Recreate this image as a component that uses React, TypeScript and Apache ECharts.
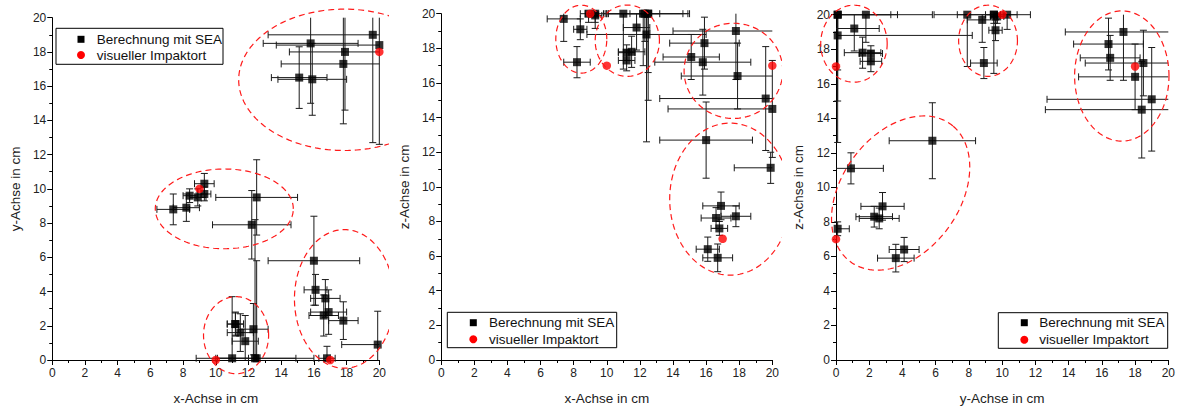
import React, { useEffect, useRef } from "react";
import * as echarts from "echarts";

// ---------- axis range ----------
const AXIS_MIN = 0;
const AXIS_MAX = 20;
const AXIS_STEP = 2;

// ---------- SEA results (cm): 4 clusters A, B, C, D ----------
const seaX = [19.6, 20.0, 15.8, 17.9, 17.8, 15.1, 15.9, 9.3, 8.4, 8.9, 9.3, 7.4, 8.2, 12.5, 12.2, 11.2, 11.2, 11.5, 11.8, 12.3, 11.0, 12.4, 12.5, 16.0, 16.1, 16.7, 16.9, 16.6, 17.8, 19.9, 16.8];
const seaY = [19.0, 18.4, 18.5, 18.0, 17.3, 16.5, 16.4, 10.3, 9.6, 9.5, 9.7, 8.8, 8.9, 9.5, 7.9, 2.1, 2.1, 1.6, 1.1, 1.8, 0.1, 0.1, 0.1, 5.8, 4.1, 3.6, 2.8, 2.6, 2.3, 0.9, 0.1];
const seaZ = [15.1, 14.5, 17.2, 16.4, 19.0, 17.5, 18.3, 20.0, 19.1, 20.0, 19.9, 19.7, 17.2, 20.0, 20.0, 17.75, 17.3, 17.8, 19.2, 20.0, 20.0, 18.8, 20.0, 12.7, 6.4, 5.9, 8.9, 8.2, 8.3, 11.1, 7.6];
const errX = [6.4, 6.3, 2.9, 3.4, 3.8, 1.7, 2.1, 0.6, 0.4, 0.5, 0.4, 1.0, 0.8, 2.5, 2.4, 0.5, 0.5, 0.8, 0.8, 0.9, 1.0, 3.6, 2.4, 2.8, 0.7, 0.9, 1.1, 0.9, 0.9, 2.2, 0.5];
const errY = [6.3, 5.8, 3.5, 3.4, 3.5, 1.8, 2.1, 0.6, 0.4, 0.5, 0.4, 0.9, 0.8, 2.2, 2.0, 0.7, 0.65, 1.1, 1.5, 1.5, 3.6, 8.1, 5.7, 2.6, 0.9, 1.1, 1.3, 1.2, 1.1, 1.95, 0.7];
const errZ = [3.0, 2.8, 1.9, 1.9, 2.8, 1.3, 1.5, 0.85, 0.6, 0.5, 0.4, 1.3, 0.9, 3.4, 3.0, 0.45, 0.6, 0.9, 1.3, 1.6, 3.2, 6.2, 5.0, 2.2, 0.7, 0.8, 0.8, 0.6, 0.6, 0.9, 0.4];

// ---------- visual impact points (cm) ----------
const impactX = [20, 9, 10, 17];
const impactY = [18, 10, 0, 0];
const impactZ = [17, 20, 17, 7];

// ---------- dashed ellipses: [centre a, centre b, radius a, radius b, angle deg] ----------
const ellipsesXY = [
  [17.86, 16.37, 6.46, 4.13, 0],
  [10.52, 8.83, 4.22, 2.33, 0],
  [11.24, 1.45, 1.99, 2.25, 0],
  [17.86, 3.57, 3.05, 4.05, 0],
];
const ellipsesXZ = [
  [8.46, 18.53, 1.54, 1.96, 0],
  [11.24, 18.44, 1.94, 2.06, 0],
  [17.65, 16.7, 2.98, 2.75, 0],
  [17.45, 9.29, 3.65, 4.39, 0],
];
const ellipsesYZ = [
  [1.08, 18.32, 2.0, 2.23, 0],
  [9.15, 18.49, 1.77, 2.06, 0],
  [17.2, 16.45, 2.84, 3.77, 0],
  [3.89, 9.67, 5.0, 3.5, 51],
];

const legendLabels = ["Berechnung mit SEA", "visueller Impaktort"];
const nameX = "x-Achse in cm";
const nameY = "y-Achse in cm";
const nameZ = "z-Achse in cm";

const FONT = '"Liberation Sans", Arial, Helvetica, sans-serif';

type Panel = {
  left: number;
  width: number;
  grid: { left: number; top: number; width: number; height: number };
  a: number[];
  b: number[];
  ea: number[];
  eb: number[];
  ia: number[];
  ib: number[];
  ellipses: number[][];
  xName: string;
  yName: string;
  yNameGap: number;
  legend: { x: number; y: number; w: number; h: number; sym: number; r1: number; r2: number; tx: number };
};

const panels: Panel[] = [
  {
    left: 0, width: 389,
    grid: { left: 50.7, top: 17.7, width: 331.3, height: 348.3 },
    a: seaX, b: seaY, ea: errX, eb: errY, ia: impactX, ib: impactY,
    ellipses: ellipsesXY, xName: nameX, yName: nameY, yNameGap: 23,
    legend: { x: 56, y: 28.3, w: 167, h: 36, sym: 81, r1: 39.3, r2: 55, tx: 96.7 },
  },
  {
    left: 389, width: 393,
    grid: { left: 51.7, top: 13.7, width: 335.3, height: 352 },
    a: seaX, b: seaZ, ea: errX, eb: errZ, ia: impactX, ib: impactZ,
    ellipses: ellipsesXZ, xName: nameX, yName: nameZ, yNameGap: 25,
    legend: { x: 58.3, y: 312.3, w: 169.4, h: 35.4, sym: 84.3, r1: 322.7, r2: 339.3, tx: 100 },
  },
  {
    left: 782, width: 396,
    grid: { left: 54, top: 14.7, width: 334, height: 351 },
    a: seaY, b: seaZ, ea: errY, eb: errZ, ia: impactY, ib: impactZ,
    ellipses: ellipsesYZ, xName: nameY, yName: nameZ, yNameGap: 25,
    legend: { x: 216.3, y: 312.7, w: 169.4, h: 35.6, sym: 242.3, r1: 322.7, r2: 339.7, tx: 257.3 },
  },
];

function axisCommon() {
  return {
    type: "value",
    min: AXIS_MIN,
    max: AXIS_MAX,
    interval: AXIS_STEP,
    nameLocation: "middle",
    nameTextStyle: { color: "#222", fontSize: 13.5, fontFamily: FONT },
    axisLine: { show: true, onZero: false, lineStyle: { color: "#000", width: 1 } },
    axisTick: { show: true, inside: false, length: 5, lineStyle: { color: "#000", width: 1 } },
    minorTick: { show: true, splitNumber: 2, length: 3, lineStyle: { color: "#000", width: 1 } },
    axisLabel: { color: "#222", fontSize: 12, fontFamily: FONT },
    splitLine: { show: false },
    minorSplitLine: { show: false },
  };
}

function buildOption(p: Panel) {
  const errData = p.a.map((v, i) => [v, p.b[i], p.ea[i], p.eb[i]]);
  const seaData = p.a.map((v, i) => [v, p.b[i]]);
  const impData = p.ia.map((v, i) => [v, p.ib[i]]);
  const L = p.legend;
  return {
    animation: false,
    grid: { ...p.grid, containLabel: false },
    xAxis: {
      ...axisCommon(),
      name: p.xName,
      nameGap: 31,
      axisLabel: { ...axisCommon().axisLabel, margin: 7 },
    },
    yAxis: {
      ...axisCommon(),
      name: p.yName,
      nameGap: p.yNameGap,
      nameRotate: 90,
      axisLabel: { ...axisCommon().axisLabel, margin: 6 },
    },
    series: [
      {
        type: "custom",
        name: "errors",
        clip: false,
        silent: true,
        z: 2,
        encode: { x: 0, y: 1 },
        data: errData,
        renderItem: (params: any, api: any) => {
          const x = api.value(0), y = api.value(1), ex = api.value(2), ey = api.value(3);
          const x0 = Math.max(AXIS_MIN, x - ex), x1 = Math.min(AXIS_MAX, x + ex);
          const y0 = Math.max(AXIS_MIN, y - ey), y1 = Math.min(AXIS_MAX, y + ey);
          const pL = api.coord([x0, y]), pR = api.coord([x1, y]);
          const pB = api.coord([x, y0]), pT = api.coord([x, y1]);
          const style = { stroke: "#1a1a1a", lineWidth: 1 };
          const c = 3.5;
          const ch: any[] = [
            { type: "line", shape: { x1: pL[0], y1: pL[1], x2: pR[0], y2: pR[1] }, style },
            { type: "line", shape: { x1: pB[0], y1: pB[1], x2: pT[0], y2: pT[1] }, style },
          ];
          if (x - ex >= AXIS_MIN) ch.push({ type: "line", shape: { x1: pL[0], y1: pL[1] - c, x2: pL[0], y2: pL[1] + c }, style });
          if (x + ex <= AXIS_MAX) ch.push({ type: "line", shape: { x1: pR[0], y1: pR[1] - c, x2: pR[0], y2: pR[1] + c }, style });
          if (y - ey >= AXIS_MIN) ch.push({ type: "line", shape: { x1: pB[0] - c, y1: pB[1], x2: pB[0] + c, y2: pB[1] }, style });
          if (y + ey <= AXIS_MAX) ch.push({ type: "line", shape: { x1: pT[0] - c, y1: pT[1], x2: pT[0] + c, y2: pT[1] }, style });
          return { type: "group", children: ch };
        },
      },
      {
        type: "scatter",
        name: legendLabels[0],
        clip: false,
        z: 3,
        symbol: "rect",
        symbolSize: 8,
        itemStyle: { color: "#000" },
        data: seaData,
      },
      {
        type: "scatter",
        name: legendLabels[1],
        clip: false,
        z: 4,
        symbol: "circle",
        symbolSize: 8.5,
        itemStyle: { color: "#ff0000" },
        data: impData,
      },
      {
        type: "custom",
        name: "ellipses",
        clip: false,
        silent: true,
        z: 5,
        encode: { x: 0, y: 1 },
        data: p.ellipses,
        renderItem: (params: any, api: any) => {
          const cx = api.value(0), cy = api.value(1), rx = api.value(2), ry = api.value(3);
          const ang = (api.value(4) * Math.PI) / 180;
          const pts: number[][] = [];
          const n = 160;
          for (let k = 0; k <= n; k++) {
            const t = (k / n) * Math.PI * 2;
            const dx = rx * Math.cos(t), dy = ry * Math.sin(t);
            pts.push(api.coord([cx + dx * Math.cos(ang) - dy * Math.sin(ang), cy + dx * Math.sin(ang) + dy * Math.cos(ang)]));
          }
          return {
            type: "polyline",
            shape: { points: pts },
            style: { stroke: "#ff1a1a", lineWidth: 1.2, lineDash: [6, 4], fill: null },
          };
        },
      },
    ],
    graphic: [
      { type: "rect", shape: { x: L.x, y: L.y, width: L.w, height: L.h }, style: { fill: "#fff", stroke: "#000", lineWidth: 1 }, z: 10 },
      { type: "rect", shape: { x: L.sym - 3.5, y: L.r1 - 3.5, width: 7, height: 7 }, style: { fill: "#000" }, z: 11 },
      { type: "circle", shape: { cx: L.sym, cy: L.r2, r: 4 }, style: { fill: "#ff0000" }, z: 11 },
      { type: "text", x: L.tx, y: L.r1, style: { text: legendLabels[0], fill: "#111", fontSize: 13.5, fontFamily: FONT, verticalAlign: "middle", align: "left" }, z: 11 },
      { type: "text", x: L.tx, y: L.r2, style: { text: legendLabels[1], fill: "#111", fontSize: 13.5, fontFamily: FONT, verticalAlign: "middle", align: "left" }, z: 11 },
    ],
  };
}

function ChartPanel({ p }: { p: Panel }) {
  const ref = useRef<HTMLDivElement>(null);
  useEffect(() => {
    if (!ref.current) return;
    const chart = echarts.init(ref.current, null, { renderer: "svg" });
    chart.setOption(buildOption(p) as any);
    return () => chart.dispose();
  }, [p]);
  return (
    <div
      ref={ref}
      style={{ position: "absolute", left: p.left, top: 0, width: p.width, height: 410, overflow: "hidden" }}
    />
  );
}

export default function App() {
  return (
    <div style={{ position: "absolute", left: 0, top: 0, width: 1178, height: 410, background: "#fff", overflow: "hidden" }}>
      {panels.map((p, i) => (
        <ChartPanel key={i} p={p} />
      ))}
    </div>
  );
}
